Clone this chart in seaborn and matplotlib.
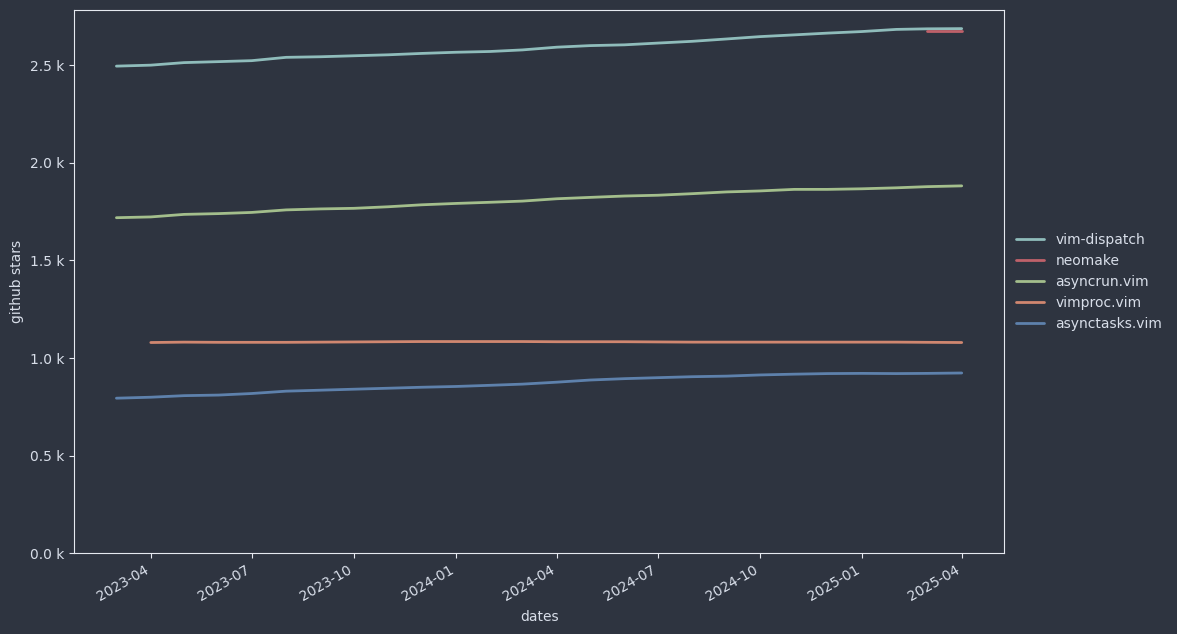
import matplotlib
matplotlib.use("Agg")
import matplotlib.dates as mdates
import matplotlib.pyplot as plt
import pandas as pd
import seaborn as sns
from matplotlib.ticker import FuncFormatter

# Monthly github star counts
months = pd.date_range("2023-03-01", "2025-04-01", freq="MS")

vim_dispatch = [2495, 2500, 2513, 2518, 2523, 2540, 2543, 2548, 2553, 2560,
                2566, 2570, 2578, 2592, 2600, 2604, 2613, 2622, 2634, 2646,
                2655, 2664, 2672, 2683, 2686, 2687]
neomake_months = months[-2:]
neomake = [2677, 2677]
asyncrun = [1719, 1723, 1736, 1740, 1746, 1759, 1764, 1767, 1775, 1785,
            1792, 1798, 1804, 1816, 1823, 1830, 1834, 1842, 1851, 1856,
            1864, 1864, 1867, 1872, 1878, 1882]
vimproc_months = months[1:]
vimproc = [1080, 1082, 1081, 1081, 1081, 1082, 1083, 1084, 1085, 1085,
           1085, 1085, 1084, 1084, 1084, 1083, 1082, 1082, 1082, 1082,
           1082, 1082, 1082, 1081, 1080]
asynctasks = [795, 800, 808, 811, 819, 831, 836, 841, 846, 851,
              855, 861, 867, 877, 888, 895, 900, 905, 908, 914,
              918, 921, 922, 921, 922, 924]

series = ["vim-dispatch", "neomake", "asyncrun.vim", "vimproc.vim", "asynctasks.vim"]
colors = ["#8fbcbb", "#bf616a", "#a3be8c", "#d08770", "#5e81ac"]

frames = [
    pd.DataFrame({"dates": months, "stars": vim_dispatch, "repo": "vim-dispatch"}),
    pd.DataFrame({"dates": neomake_months, "stars": neomake, "repo": "neomake"}),
    pd.DataFrame({"dates": months, "stars": asyncrun, "repo": "asyncrun.vim"}),
    pd.DataFrame({"dates": vimproc_months, "stars": vimproc, "repo": "vimproc.vim"}),
    pd.DataFrame({"dates": months, "stars": asynctasks, "repo": "asynctasks.vim"}),
]
df = pd.concat(frames, ignore_index=True)

bg = "#2e3440"
fg = "#d8dee9"
edge = "#e5e9f0"

sns.set_style("ticks")
plt.rcParams.update({
    "figure.facecolor": bg,
    "axes.facecolor": bg,
    "axes.edgecolor": edge,
    "axes.labelcolor": fg,
    "text.color": fg,
    "xtick.color": edge,
    "ytick.color": edge,
    "xtick.labelcolor": fg,
    "ytick.labelcolor": fg,
    "font.family": ["DejaVu Sans"],
})

fig = plt.figure(figsize=(11.77, 6.34), dpi=100)
ax = fig.add_axes([0.063, 0.127, 0.790, 0.857])

sns.lineplot(
    data=df,
    x="dates",
    y="stars",
    hue="repo",
    hue_order=series,
    palette=colors,
    linewidth=2,
    ax=ax,
)

ax.set_ylim(bottom=0)
ax.yaxis.set_major_formatter(FuncFormatter(lambda v, _: f"{v / 1000:.1f} k"))
ax.xaxis.set_major_locator(mdates.MonthLocator(bymonth=[1, 4, 7, 10]))
ax.xaxis.set_major_formatter(mdates.DateFormatter("%Y-%m"))
for lbl in ax.get_xticklabels():
    lbl.set_rotation(30)
    lbl.set_ha("right")

ax.set_xlabel("dates")
ax.set_ylabel("github stars")

leg = ax.legend(loc="center left", bbox_to_anchor=(1.0, 0.5), frameon=False)
for txt in leg.get_texts():
    txt.set_color(fg)

fig.savefig("out.png", dpi=100, facecolor=bg)
